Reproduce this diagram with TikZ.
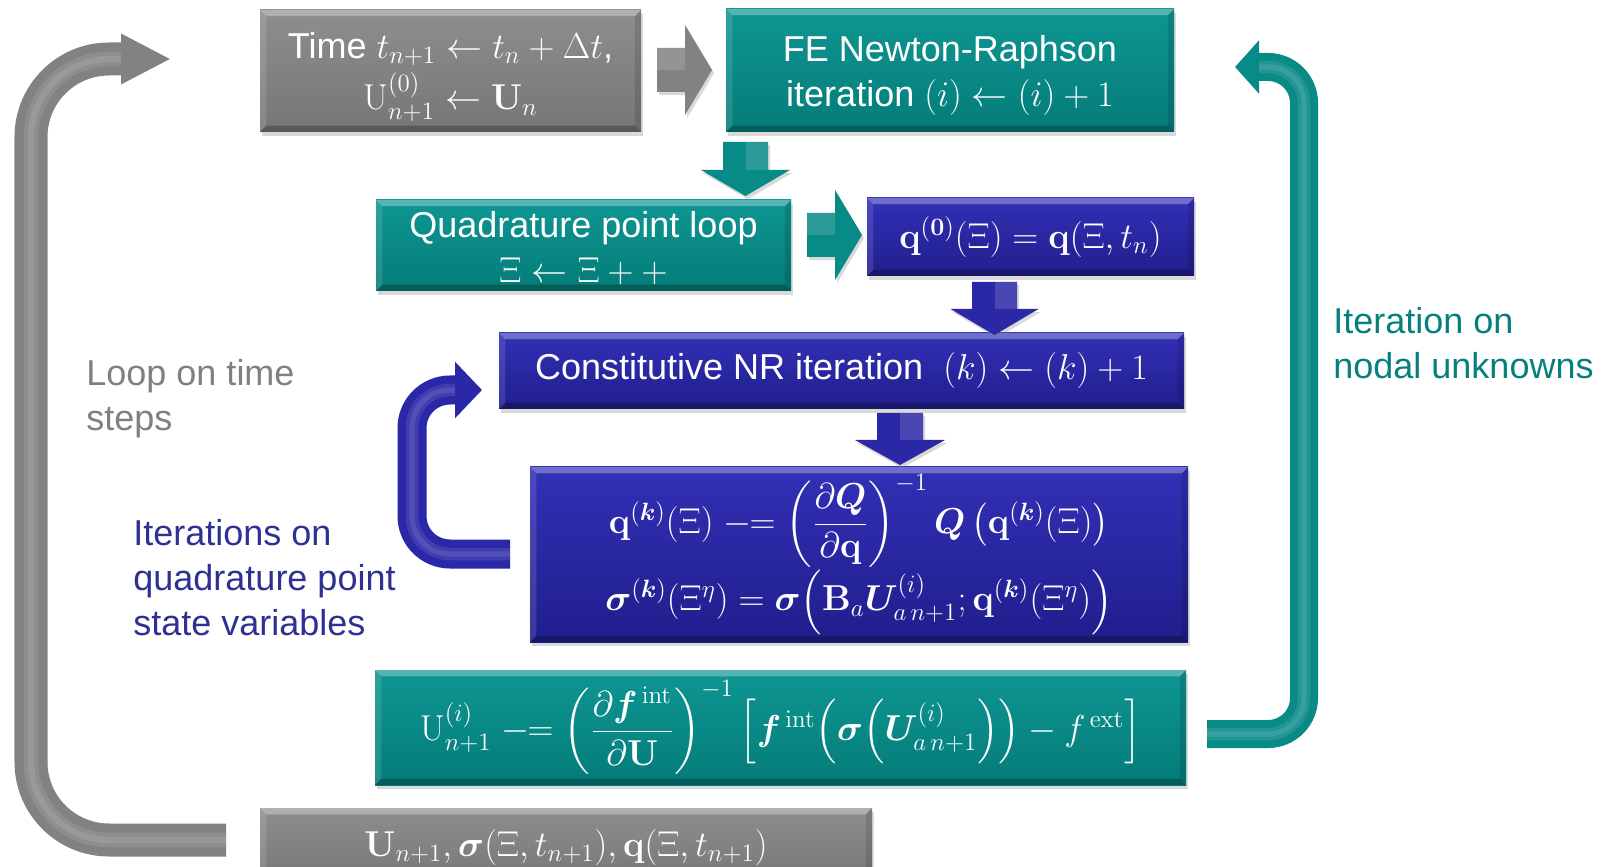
\documentclass[tikz,border=0pt]{standalone}
\usepackage{amsmath,bm}
\usepackage[no-math]{fontspec}
\newfontfamily\arialfont{Liberation Sans}
\usetikzlibrary{arrows.meta,shadows,calc}
\definecolor{tealtop}{RGB}{14,150,146}
\definecolor{tealbot}{RGB}{4,124,121}
\definecolor{tealfill}{RGB}{8,138,135}
\definecolor{bluetop}{RGB}{50,48,182}
\definecolor{bluebot}{RGB}{32,30,140}
\definecolor{bluefill}{RGB}{42,40,166}
\definecolor{graytop}{RGB}{142,142,142}
\definecolor{graybot}{RGB}{118,118,118}
\definecolor{grayfill}{RGB}{130,130,130}
\definecolor{txtblue}{RGB}{46,49,146}
\definecolor{txtteal}{RGB}{6,128,126}
\definecolor{txtgray}{RGB}{128,128,128}
\newcommand\px{0.48pt}
\newcommand\bxfont{\arialfont\fontsize{17.28}{21.6}\selectfont}
\tikzset{
  bevel/.style={path picture={
    \path (path picture bounding box.north west) coordinate (bNW)
          (path picture bounding box.north east) coordinate (bNE)
          (path picture bounding box.south west) coordinate (bSW)
          (path picture bounding box.south east) coordinate (bSE);
    \fill[white,opacity=.30] (bNW) -- (bNE) -- ([shift={(-3pt,-3pt)}]bNE) -- ([shift={(3pt,-3pt)}]bNW) -- cycle;
    \fill[white,opacity=.12] (bNW) -- (bSW) -- ([shift={(3pt,3pt)}]bSW) -- ([shift={(3pt,-3pt)}]bNW) -- cycle;
    \fill[black,opacity=.25] (bSW) -- (bSE) -- ([shift={(-3pt,3pt)}]bSE) -- ([shift={(3pt,3pt)}]bSW) -- cycle;
    \fill[black,opacity=.12] (bNE) -- (bSE) -- ([shift={(-3pt,3pt)}]bSE) -- ([shift={(-3pt,-3pt)}]bNE) -- cycle;
  }},
  box/.style={rectangle, inner sep=0pt, align=center, text=white, font=\bxfont,
    drop shadow={shadow xshift=1pt, shadow yshift=-2pt, opacity=.3}, bevel},
  tealbx/.style={box, top color=tealtop, bottom color=tealbot},
  bluebx/.style={box, top color=bluetop, bottom color=bluebot},
  graybx/.style={box, top color=graytop, bottom color=graybot},
  lbl/.style={inner sep=0pt, align=left, font=\bxfont, anchor=north west},
  pics/fatarrow/.style args={#1/#2/#3/#4/#5}{code={
    \fill[#5, drop shadow={shadow xshift=1pt, shadow yshift=-1.5pt, opacity=.3}]
      (0,-#2) -- ({#1-#4},-#2) -- ({#1-#4},-#3) -- (#1,0) -- ({#1-#4},#3) -- ({#1-#4},#2) -- (0,#2) -- cycle;
    \fill[white,opacity=.15] (0,-#2) -- ({#1-#4},-#2) -- ({#1-#4},0) -- (0,0) -- cycle;
  }},
  uarrow/.style={line width=#1, line cap=butt},
  glow/.style={white, opacity=.10, line width=#1},
}
\begin{document}
\begin{tikzpicture}[x=0.48pt,y=-0.48pt]
\useasboundingbox (0,0) rectangle (1615,867);
\clip (0,0) rectangle (1615,867);

% U-turn arrows
\coordinate (gT) at (226,840);
\coordinate (gC) at (31,59);
\coordinate (gH) at (171,59);
\draw[grayfill, uarrow=15.84pt, rounded corners=37.44pt, -{Triangle[length=24pt,width=22.56pt]}] (gT) -| (gC) -- (gH);
\draw[glow=7pt, rounded corners=37.44pt] (gT) -| (gC) -- ([xshift=-24pt]gH);
\draw[glow=3pt, rounded corners=37.44pt] (gT) -| (gC) -- ([xshift=-24pt]gH);

\coordinate (tT) at (1207,734);
\coordinate (tC) at (1304,67);
\coordinate (tH) at (1235,67);
\draw[tealfill, uarrow=13.44pt, rounded corners=17.28pt, -{Triangle[length=11.52pt,width=24.96pt]}] (tT) -| (tC) -- (tH);
\draw[glow=6pt, rounded corners=17.28pt] (tT) -| (tC) -- ([xshift=11.52pt]tH);
\draw[glow=2.5pt, rounded corners=17.28pt] (tT) -| (tC) -- ([xshift=11.52pt]tH);

\coordinate (bT) at (510,554);
\coordinate (bC) at (412,390);
\coordinate (bH) at (482,390);
\draw[bluefill, uarrow=13.92pt, rounded corners=18.24pt, -{Triangle[length=12.96pt,width=26.4pt]}] (bT) -| (bC) -- (bH);
\draw[glow=6pt, rounded corners=18.24pt] (bT) -| (bC) -- ([xshift=-12.96pt]bH);
\draw[glow=2.5pt, rounded corners=18.24pt] (bT) -| (bC) -- ([xshift=-12.96pt]bH);

% boxes
\node[graybx, minimum width=381*\px, minimum height=122*\px] (time) at (450.5,71)
  {\rule{0pt}{18pt}Time $t_{n+1} \leftarrow t_n + \Delta t$,\\[3pt] $\mathrm{U}^{(0)}_{n+1} \leftarrow \mathbf{U}_n$};
\node[tealbx, minimum width=448*\px, minimum height=123*\px] (fe) at (950,70.5)
  {\rule{0pt}{17pt}FE Newton-Raphson\\ iteration $(i) \leftarrow (i) + 1$};
\node[tealbx, minimum width=415*\px, minimum height=91*\px] (quad) at (583.5,245.5)
  {\rule{0pt}{15pt}Quadrature point loop\\ $\Xi \leftarrow \Xi + +$};
\node[bluebx, minimum width=327*\px, minimum height=78*\px] (qzero) at (1030.5,237)
  {$\mathbf{q}^{(\mathbf{0})}(\Xi) = \mathbf{q}(\Xi, t_n)$};
\node[bluebx, minimum width=685*\px, minimum height=76*\px] (const) at (841.5,371)
  {Constitutive NR iteration\ \ $(k) \leftarrow (k) + 1$};
\node[bluebx, minimum width=658*\px, minimum height=175*\px] (upd) at (859,554.5)
  {$\mathbf{q}^{(\bm{k})}(\Xi) \mathrel{-\!\!=} \left(\dfrac{\partial \bm{Q}}{\partial \mathbf{q}}\right)^{-1} \bm{Q}\left(\mathbf{q}^{(\bm{k})}(\Xi)\right)$\\
   $\bm{\sigma}^{(\bm{k})}(\Xi^{\eta}) = \bm{\sigma}\Bigl(\mathbf{B}_a \bm{U}^{(i)}_{a\,n+1}; \mathbf{q}^{(\bm{k})}(\Xi^{\eta})\Bigr)$};
\node[tealbx, minimum width=811*\px, minimum height=115*\px] (fint) at (780.5,727.5)
  {$\mathrm{U}^{(i)}_{n+1} \mathrel{-\!\!=} \left(\dfrac{\partial \bm{f}^{\,\mathrm{int}}}{\partial \mathbf{U}}\right)^{-1} \left[\bm{f}^{\,\mathrm{int}}\Bigl(\bm{\sigma}\Bigl(\bm{U}^{(i)}_{a\,n+1}\Bigr)\Bigr) - f^{\,\mathrm{ext}}\right]$};
\node[graybx, minimum width=612*\px, minimum height=78*\px] (res) at (566,847)
  {$\mathbf{U}_{n+1}, \bm{\sigma}(\Xi, t_{n+1}), \mathbf{q}(\Xi, t_{n+1})$};

% block arrows
\coordinate (a1) at (657,70);
\coordinate (a2) at (745.5,142);
\coordinate (a3) at (807,235);
\coordinate (a4) at (994.5,282);
\coordinate (a5) at (900,413);
\pic at (a1) {fatarrow=55/22/45/27/grayfill};
\pic[rotate=-90] at (a2) {fatarrow=54/22.5/44.5/26/tealfill};
\pic at (a3) {fatarrow=55/22/45/27/tealfill};
\pic[rotate=-90] at (a4) {fatarrow=53/22.5/44/26/bluefill};
\pic[rotate=-90] at (a5) {fatarrow=52/23/45/25/bluefill};

% labels
\node[lbl, text=txtgray] (loop) at (86,359) {Loop on time\\steps};
\node[lbl, text=txtblue] (iterq) at (133,519) {Iterations on\\quadrature point\\state variables};
\node[lbl, text=txtteal] (itern) at (1333,307) {Iteration on\\nodal unknowns};
\end{tikzpicture}
\end{document}
